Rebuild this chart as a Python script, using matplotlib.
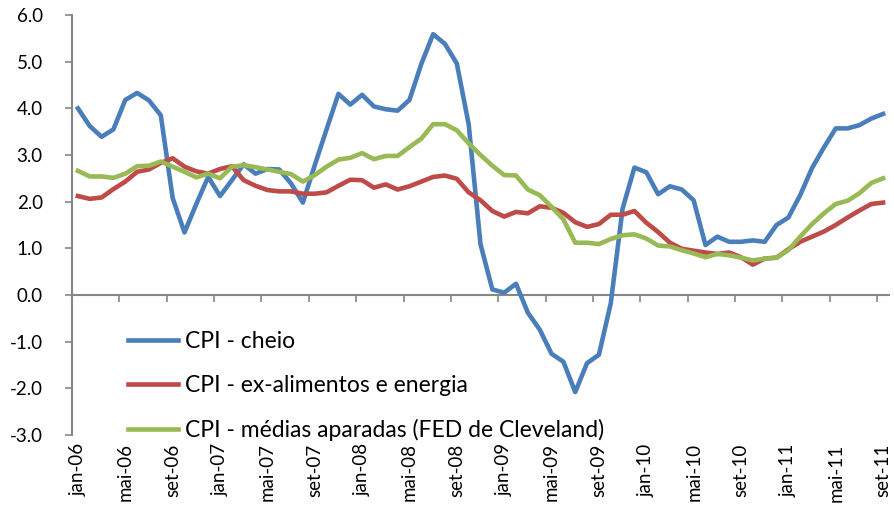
import numpy as np
import matplotlib
matplotlib.use("Agg")
from matplotlib import pyplot as plt

# monthly, jan-06 .. set-11
months = ["jan", "fev", "mar", "abr", "mai", "jun", "jul", "ago", "set", "out", "nov", "dez"]
dates = [m + "-" + y for y in ["06", "07", "08", "09", "10", "11"] for m in months][:69]

cpi_cheio = [
    4.00, 3.62, 3.39, 3.55, 4.18, 4.33, 4.17, 3.85, 2.08, 1.34, 1.95, 2.53,
    2.12, 2.46, 2.80, 2.60, 2.70, 2.69, 2.39, 1.98, 2.78, 3.55, 4.31, 4.08,
    4.29, 4.04, 3.98, 3.95, 4.18, 4.95, 5.59, 5.38, 4.96, 3.66, 1.09, 0.12,
    0.05, 0.24, -0.38, -0.74, -1.26, -1.43, -2.08, -1.46, -1.28, -0.18, 1.85, 2.73,
    2.63, 2.16, 2.33, 2.26, 2.03, 1.07, 1.25, 1.14, 1.14, 1.17, 1.14, 1.50,
    1.66, 2.14, 2.72, 3.16, 3.57, 3.57, 3.64, 3.78, 3.88,
]
cpi_core = [
    2.12, 2.06, 2.09, 2.27, 2.43, 2.64, 2.69, 2.83, 2.93, 2.75, 2.65, 2.60,
    2.70, 2.76, 2.46, 2.34, 2.25, 2.22, 2.22, 2.17, 2.17, 2.20, 2.34, 2.47,
    2.46, 2.30, 2.37, 2.26, 2.33, 2.43, 2.53, 2.56, 2.49, 2.20, 2.03, 1.80,
    1.68, 1.78, 1.75, 1.90, 1.87, 1.76, 1.56, 1.46, 1.52, 1.72, 1.72, 1.80,
    1.55, 1.35, 1.12, 0.99, 0.95, 0.91, 0.88, 0.91, 0.81, 0.65, 0.78, 0.80,
    0.98, 1.14, 1.25, 1.36, 1.50, 1.66, 1.81, 1.95, 1.98,
]
cpi_aparadas = [
    2.66, 2.54, 2.54, 2.51, 2.60, 2.76, 2.77, 2.86, 2.75, 2.64, 2.52, 2.60,
    2.50, 2.75, 2.78, 2.74, 2.69, 2.64, 2.59, 2.43, 2.57, 2.75, 2.90, 2.94,
    3.04, 2.91, 2.98, 2.98, 3.17, 3.35, 3.66, 3.66, 3.53, 3.25, 3.00, 2.77,
    2.57, 2.56, 2.26, 2.14, 1.89, 1.62, 1.12, 1.12, 1.09, 1.20, 1.28, 1.30,
    1.21, 1.06, 1.04, 0.96, 0.89, 0.81, 0.88, 0.85, 0.80, 0.74, 0.78, 0.80,
    0.96, 1.25, 1.52, 1.75, 1.95, 2.02, 2.18, 2.40, 2.50,
]

plt.rcParams["font.family"] = ["Lato", "DejaVu Sans"]
axis_grey = "#868686"

fig = plt.figure(figsize=(8.94, 5.07), dpi=100)
ax = fig.add_axes([72 / 894, 1 - 435 / 507, (889 - 72) / 894, (435 - 15) / 507])

x = np.arange(len(dates))
ax.plot(x, cpi_cheio, color="#4A7EBB", lw=3.3, label="CPI - cheio", solid_joinstyle="round")
ax.plot(x, cpi_core, color="#BE4B48", lw=3.3, label="CPI - ex-alimentos e energia", solid_joinstyle="round")
ax.plot(x, cpi_aparadas, color="#98B954", lw=3.3, label="CPI - médias aparadas (FED de Cleveland)", solid_joinstyle="round")

ax.set_xlim(-0.5, len(dates) - 0.5)
ax.set_ylim(-3, 6)
yt = np.arange(-3, 7, 1)
ax.set_yticks(yt)
ax.set_yticklabels(["%.1f" % v for v in yt], fontsize=13.5)
ax.tick_params(axis="y", direction="out", length=5, width=1.2, color=axis_grey, pad=16)

# labels at the bottom, tick marks on the zero line
ax.set_xticks(x[::4])
ax.set_xticklabels(dates[::4], rotation=90, fontsize=13.5)
ax.tick_params(axis="x", length=0, pad=6)

for s in ["top", "right", "bottom"]:
    ax.spines[s].set_visible(False)
ax.spines["left"].set_color(axis_grey)
ax.spines["left"].set_linewidth(1.5)

sec = ax.secondary_xaxis(1 / 3)
sec.set_xticks(np.arange(-0.5, len(dates), 4))
sec.set_xticklabels([])
sec.tick_params(axis="x", direction="out", length=5, width=1.2, color=axis_grey)
sec.spines["bottom"].set_color(axis_grey)
sec.spines["bottom"].set_linewidth(1.5)

ax.legend(loc="upper left", bbox_to_anchor=(107 / 894, 1 - 310 / 507), bbox_transform=fig.transFigure,
          frameon=False, fontsize=16.5, handlelength=2.2, handletextpad=0.3, labelspacing=1.0)

fig.savefig("out.png", dpi=100)
